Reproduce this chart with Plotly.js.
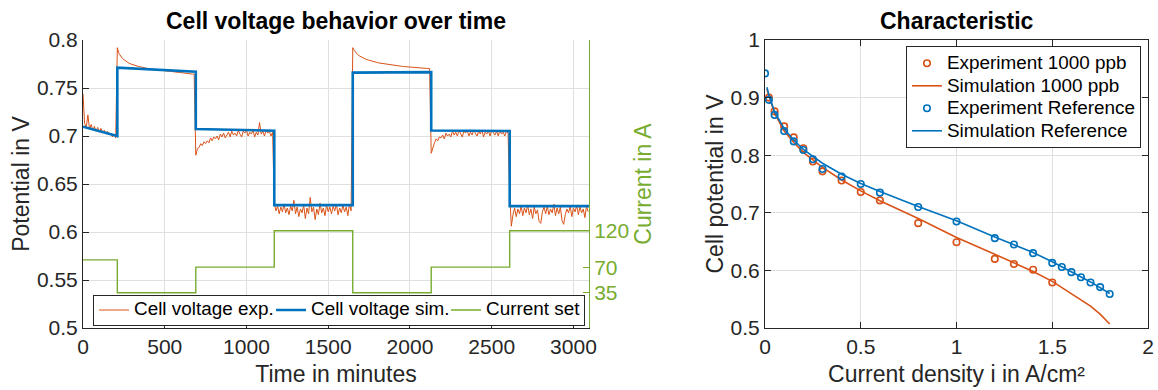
<!DOCTYPE html>
<html>
<head>
<meta charset="utf-8">
<script src="https://cdn.plot.ly/plotly-3.0.1.min.js"></script>
<style>
  html, body { margin: 0; padding: 0; background: #ffffff; }
  #chart { width: 1158px; height: 390px; }
</style>
</head>
<body>
<div id="chart"></div>
<script>
// ---- Left panel: cell voltage and current set-point over time ----
// Measured cell voltage, one sample every 10 minutes starting at t = 0
const expTimeStep = 10;
const expVoltage = [
  // 0 - 200 min
  0.744, 0.713, 0.709, 0.722, 0.707, 0.712, 0.706, 0.710, 0.705, 0.709,
  0.704, 0.708, 0.703, 0.706, 0.702, 0.705, 0.701, 0.703, 0.699, 0.702, 0.698,
  // 210 - 680 min
  0.792, 0.786, 0.783, 0.781, 0.7795, 0.778, 0.7772, 0.776, 0.7752, 0.7745,
  0.7741, 0.7734, 0.7731, 0.7724, 0.7721, 0.7716, 0.7713, 0.7707, 0.7706, 0.7701,
  0.7700, 0.7696, 0.7696, 0.7691, 0.7690, 0.7687, 0.7687, 0.7683, 0.7682, 0.7679,
  0.7679, 0.7675, 0.7675, 0.7671, 0.7670, 0.7667, 0.7667, 0.7663, 0.7662, 0.7659,
  0.7659, 0.7655, 0.7654, 0.7651, 0.7650, 0.7647, 0.7646, 0.7643,
  // 690 - 1160 min
  0.680, 0.687, 0.688, 0.692, 0.690, 0.694, 0.692, 0.695, 0.693, 0.698,
  0.695, 0.699, 0.697, 0.700, 0.696, 0.702, 0.699, 0.703, 0.698, 0.701,
  0.704, 0.699, 0.705, 0.701, 0.703, 0.700, 0.706, 0.702, 0.699, 0.705,
  0.703, 0.706, 0.700, 0.704, 0.702, 0.706, 0.699, 0.704, 0.701, 0.714,
  0.702, 0.705, 0.700, 0.706, 0.703, 0.705, 0.700, 0.704,
  // 1170 - 1640 min
  0.631, 0.622, 0.627, 0.619, 0.626, 0.621, 0.629, 0.620, 0.625, 0.618,
  0.627, 0.622, 0.633, 0.619, 0.626, 0.616, 0.624, 0.620, 0.628, 0.614,
  0.625, 0.619, 0.636, 0.621, 0.626, 0.613, 0.624, 0.618, 0.630, 0.620,
  0.625, 0.617, 0.628, 0.621, 0.626, 0.619, 0.627, 0.622, 0.629, 0.618,
  0.625, 0.620, 0.628, 0.621, 0.626, 0.617, 0.629, 0.622,
  // 1650 - 2120 min
  0.792, 0.789, 0.7865, 0.7848, 0.7835, 0.7825, 0.7815, 0.7808, 0.7800, 0.7794,
  0.7788, 0.7783, 0.7778, 0.7773, 0.7769, 0.7765, 0.7761, 0.7758, 0.7755, 0.7752,
  0.7749, 0.7746, 0.7744, 0.7741, 0.7739, 0.7737, 0.7734, 0.7732, 0.7730, 0.7728,
  0.7726, 0.7724, 0.7722, 0.7720, 0.7719, 0.7717, 0.7716, 0.7714, 0.7713, 0.7711,
  0.7710, 0.7709, 0.7707, 0.7706, 0.7705, 0.7704, 0.7703, 0.7702,
  // 2130 - 2600 min
  0.682, 0.689, 0.693, 0.697, 0.695, 0.699, 0.698, 0.701, 0.697, 0.703,
  0.700, 0.702, 0.699, 0.705, 0.701, 0.704, 0.700, 0.706, 0.702, 0.699,
  0.705, 0.703, 0.706, 0.700, 0.704, 0.701, 0.706, 0.703, 0.700, 0.705,
  0.702, 0.706, 0.699, 0.704, 0.702, 0.705, 0.700, 0.706, 0.703, 0.701,
  0.705, 0.700, 0.706, 0.702, 0.704, 0.700, 0.705, 0.703,
  // 2610 - 3090 min
  0.640, 0.606, 0.618, 0.625, 0.616, 0.624, 0.619, 0.627, 0.617, 0.625,
  0.620, 0.628, 0.618, 0.624, 0.614, 0.626, 0.619, 0.623, 0.611, 0.609,
  0.621, 0.626, 0.619, 0.627, 0.618, 0.624, 0.620, 0.629, 0.617, 0.625,
  0.619, 0.626, 0.612, 0.608, 0.618, 0.624, 0.620, 0.627, 0.616, 0.625,
  0.621, 0.628, 0.618, 0.626, 0.620, 0.624, 0.615, 0.627, 0.621
];
const expTime = expVoltage.map((_, i) => i * expTimeStep);

// Simulated cell voltage (piecewise segments between load steps)
const simTime    = [0, 210, 210, 690, 690, 1170, 1170, 1650, 1650, 2130, 2130, 2610, 2610, 3095];
const simVoltage = [0.7097, 0.700, 0.7712, 0.767, 0.7073, 0.7055, 0.628, 0.628, 0.766, 0.7665, 0.7058, 0.7052, 0.627, 0.627];

// Current set-point in A (held until the next change)
const currentTime = [0, 210, 690, 1170, 1650, 2130, 2610, 3095];
const currentSet  = [80, 35, 70, 120, 35, 70, 120, 120];
const currentTicks = [35, 70, 120];

// ---- Right panel: polarisation characteristic ----
const expRefDensity = [0, 0.02, 0.05, 0.1, 0.15, 0.2, 0.25, 0.3, 0.4, 0.5, 0.6, 0.8, 1.0, 1.2, 1.3, 1.4, 1.5, 1.55, 1.6, 1.65, 1.7, 1.75, 1.8];
const expRefVoltage = [0.942, 0.896, 0.870, 0.842, 0.824, 0.809, 0.793, 0.776, 0.763, 0.750, 0.735, 0.710, 0.685, 0.656, 0.645, 0.630, 0.613, 0.606, 0.597, 0.588, 0.579, 0.571, 0.559];

const exp1000Density = [0.02, 0.05, 0.1, 0.15, 0.2, 0.25, 0.3, 0.4, 0.5, 0.6, 0.8, 1.0, 1.2, 1.3, 1.4, 1.5];
const exp1000Voltage = [0.900, 0.876, 0.850, 0.831, 0.812, 0.789, 0.772, 0.756, 0.736, 0.7215, 0.682, 0.649, 0.620, 0.611, 0.601, 0.579];

const simRefDensity = [0.01, 0.02, 0.05, 0.1, 0.15, 0.2, 0.3, 0.4, 0.5, 0.6, 0.8, 1.0, 1.2, 1.3, 1.4, 1.5, 1.6, 1.7, 1.8];
const simRefVoltage = [0.918, 0.905, 0.875, 0.846, 0.826, 0.810, 0.786, 0.767, 0.751, 0.737, 0.711, 0.686, 0.658, 0.645, 0.631, 0.615, 0.598, 0.580, 0.560];

const sim1000Density = [0.01, 0.02, 0.05, 0.1, 0.15, 0.2, 0.3, 0.4, 0.5, 0.6, 0.8, 1.0, 1.2, 1.3, 1.4, 1.5, 1.6, 1.7, 1.75, 1.8];
const sim1000Voltage = [0.915, 0.903, 0.873, 0.842, 0.822, 0.805, 0.779, 0.757, 0.738, 0.721, 0.690, 0.657, 0.628, 0.613, 0.598, 0.581, 0.560, 0.538, 0.524, 0.507];

// ---- Styling ----
const C_ORANGE = '#D95319';
const C_BLUE   = '#0072BD';
const C_GREEN  = '#77AC30';
const C_AXIS   = '#262626';
const C_GRID   = '#dfdfdf';
const FONT = 'Liberation Sans, Arial, Helvetica, sans-serif';

// Legend entries: compact row spacing, full-size text
const entry = (label) => '<span style="font-size:18.9px">' + label + '</span>';

const traces = [
  { x: expTime, y: expVoltage, xaxis: 'x', yaxis: 'y', mode: 'lines',
    name: entry('Cell voltage exp.'), line: { color: C_ORANGE, width: 1 },
    legend: 'legend', legendwidth: 132 },
  { x: simTime, y: simVoltage, xaxis: 'x', yaxis: 'y', mode: 'lines',
    name: entry('Cell voltage sim.'), line: { color: C_BLUE, width: 2.6 },
    legend: 'legend', legendwidth: 130 },
  { x: currentTime, y: currentSet, xaxis: 'x', yaxis: 'y2', mode: 'lines',
    name: entry('Current set'), line: { color: C_GREEN, width: 1.4, shape: 'hv' },
    legend: 'legend', legendwidth: 93 },

  { x: exp1000Density, y: exp1000Voltage, xaxis: 'x2', yaxis: 'y3', mode: 'markers',
    name: entry('Experiment 1000 ppb'),
    marker: { symbol: 'circle-open', size: 6.5, color: C_ORANGE, line: { width: 1.6 } }, legend: 'legend2' },
  { x: sim1000Density, y: sim1000Voltage, xaxis: 'x2', yaxis: 'y3', mode: 'lines',
    name: entry('Simulation 1000 ppb'), line: { color: C_ORANGE, width: 1.6 }, legend: 'legend2' },
  { x: expRefDensity, y: expRefVoltage, xaxis: 'x2', yaxis: 'y3', mode: 'markers',
    name: entry('Experiment Reference'),
    marker: { symbol: 'circle-open', size: 6.5, color: C_BLUE, line: { width: 1.6 } }, legend: 'legend2' },
  { x: simRefDensity, y: simRefVoltage, xaxis: 'x2', yaxis: 'y3', mode: 'lines',
    name: entry('Simulation Reference'), line: { color: C_BLUE, width: 1.6 }, legend: 'legend2' }
];

const baseAxis = {
  showline: true, linecolor: C_AXIS, linewidth: 1,
  ticks: 'inside', ticklen: 6, tickwidth: 1, tickcolor: C_AXIS,
  showgrid: true, gridcolor: C_GRID, gridwidth: 1, zeroline: false,
  tickfont: { size: 21, color: C_AXIS, family: FONT }
};

const layout = {
  width: 1158, height: 390,
  margin: { l: 83, r: 10, t: 40, b: 62, pad: 0 },
  paper_bgcolor: '#ffffff', plot_bgcolor: '#ffffff',
  font: { family: FONT, size: 21, color: C_AXIS },
  showlegend: true,
  xaxis: Object.assign({}, baseAxis, {
    domain: [0, 0.4751], anchor: 'y', range: [0, 3095],
    tickvals: [0, 500, 1000, 1500, 2000, 2500, 3000],
    title: { text: 'Time in minutes', font: { size: 23, color: C_AXIS }, standoff: 8 }
  }),
  yaxis: Object.assign({}, baseAxis, {
    domain: [0, 1], anchor: 'x', range: [0.5, 0.8], tick0: 0.5, dtick: 0.05,
    title: { text: 'Potential in V', font: { size: 23, color: C_AXIS }, standoff: 0 }
  }),
  yaxis2: {
    overlaying: 'y', side: 'right', anchor: 'x', range: [-13.4, 381.4],
    tickvals: currentTicks, ticks: 'inside', ticklen: 6, tickcolor: C_GREEN,
    showline: true, linecolor: C_GREEN, linewidth: 1,
    showgrid: false, zeroline: false,
    tickfont: { size: 21, color: C_GREEN, family: FONT },
    title: { text: 'Current in A', font: { size: 23, color: C_GREEN }, standoff: 6 }
  },
  xaxis2: Object.assign({}, baseAxis, {
    domain: [0.6404, 1], anchor: 'y3', range: [0, 2], tick0: 0, dtick: 0.5, mirror: 'ticks',
    title: { text: 'Current density i in A/cm²', font: { size: 23, color: C_AXIS }, standoff: 8 }
  }),
  yaxis3: Object.assign({}, baseAxis, {
    domain: [0, 1], anchor: 'x2', range: [0.5, 1], tick0: 0.5, dtick: 0.1, mirror: 'ticks',
    title: { text: 'Cell potential in V', font: { size: 23, color: C_AXIS }, standoff: 0 }
  }),
  legend: {
    orientation: 'h', x: 0.0094, y: 0.0625, xanchor: 'left', yanchor: 'middle',
    bgcolor: '#ffffff', bordercolor: C_AXIS, borderwidth: 1,
    font: { size: 12, color: '#000000', family: FONT }, traceorder: 'normal'
  },
  legend2: {
    orientation: 'v', x: 0.9934, y: 0.979, xanchor: 'right', yanchor: 'top',
    bgcolor: '#ffffff', bordercolor: C_AXIS, borderwidth: 1,
    font: { size: 15, color: '#000000', family: FONT }, traceorder: 'normal',
    tracegroupgap: 0
  },
  annotations: [
    { text: '<b>Cell voltage behavior over time</b>', xref: 'paper', yref: 'paper',
      x: 0.2376, y: 1.066, xanchor: 'center', yanchor: 'middle', showarrow: false,
      font: { size: 23, color: '#000000', family: FONT } },
    { text: '<b>Characteristic</b>', xref: 'paper', yref: 'paper',
      x: 0.8202, y: 1.066, xanchor: 'center', yanchor: 'middle', showarrow: false,
      font: { size: 23, color: '#000000', family: FONT } }
  ]
};

Plotly.newPlot('chart', traces, layout, { displayModeBar: false, staticPlot: true });
</script>
</body>
</html>
